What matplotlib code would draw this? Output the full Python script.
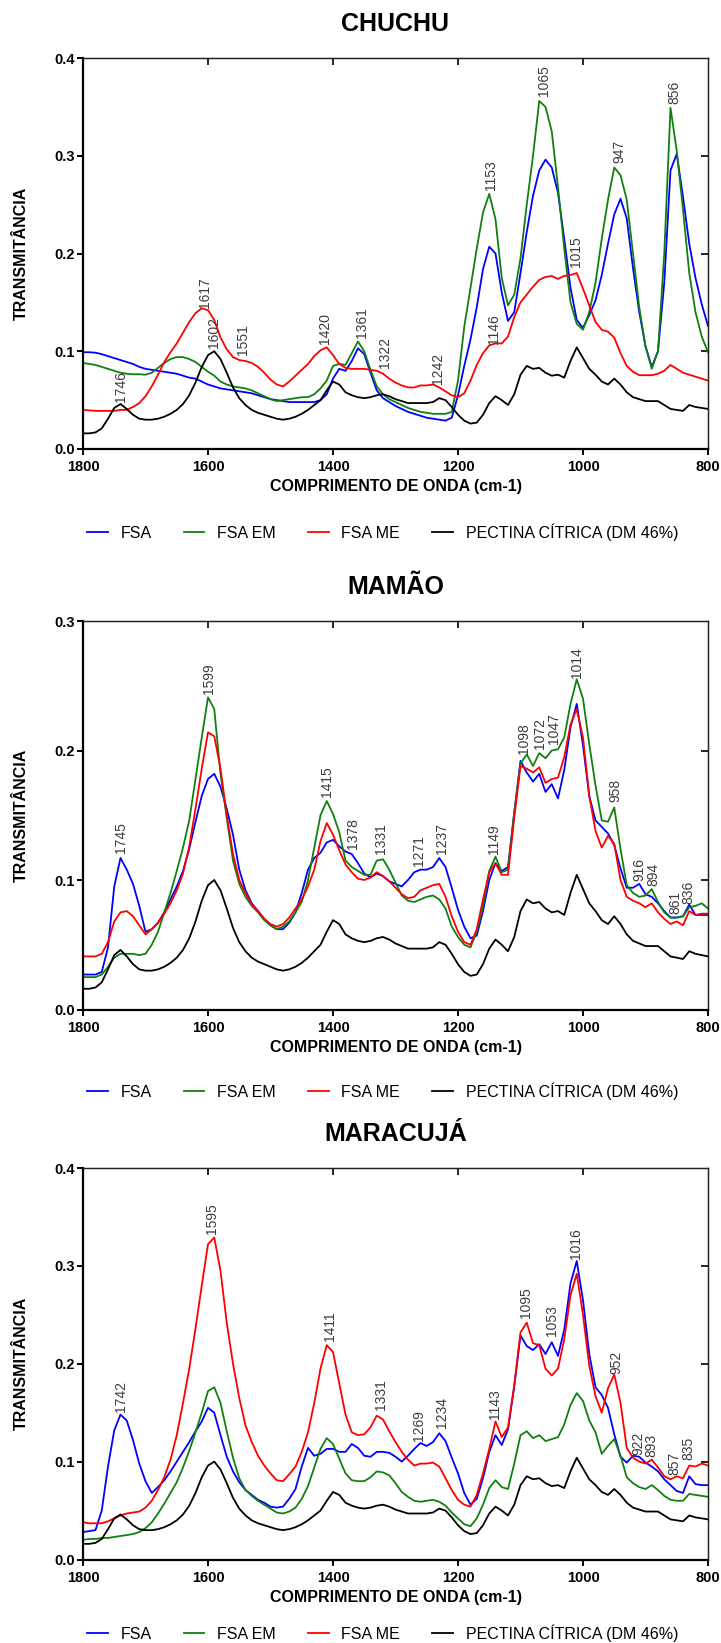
import matplotlib
matplotlib.use("Agg")
import matplotlib.pyplot as plt

plt.rcParams['font.family'] = ['Liberation Sans', 'DejaVu Sans']

# --- wavenumber grid (cm-1), 1800 -> 800 every 10 ---
wn = list(range(1800, 799, -10))

series_names = ['FSA', 'FSA EM', 'FSA ME', 'PECTINA CÍTRICA (DM 46%)']
series_colors = ['#0000ff', '#108010', '#ff0000', '#000000']

# citrus pectin reference (same curve in the three panels)
pectina = [.016, .016, .017, .021, .031, .042, .046, .041, .035, .031,
           .030, .030, .031, .033, .036, .040, .046, .055, .068, .084,
           .096, .100, .092, .078, .063, .052, .045, .040, .037, .035,
           .033, .031, .030, .031, .033, .036, .040, .045, .050, .060,
           .069, .066, .058, .055, .053, .052, .053, .055, .056, .054,
           .051, .049, .047, .047, .047, .047, .048, .052, .050, .043,
           .035, .029, .026, .027, .035, .047, .054, .050, .045, .056,
           .076, .085, .082, .083, .078, .075, .076, .073, .090, .104,
           .093, .082, .076, .069, .066, .072, .066, .058, .053, .051,
           .049, .049, .049, .045, .041, .040, .039, .045, .043, .042,
           .041]

# --- CHUCHU ---
chuchu_fsa = [.099, .099, .0985, .097, .095, .093, .091, .089, .087, .084,
              .082, .081, .080, .079, .078, .077, .075, .073, .072, .069,
              .066, .064, .062, .061, .060, .059, .058, .057, .055, .053,
              .051, .050, .049, .048, .048, .048, .048, .048, .050, .056,
              .072, .082, .080, .090, .103, .097, .078, .060, .052, .048,
              .044, .041, .038, .036, .034, .032, .031, .030, .029, .032,
              .055, .085, .112, .145, .184, .207, .200, .160, .131, .140,
              .180, .222, .259, .285, .296, .288, .262, .215, .165, .132,
              .124, .137, .152, .178, .210, .240, .256, .236, .185, .140,
              .105, .084, .100, .170, .285, .302, .258, .210, .175, .148,
              .126]
chuchu_em = [.088, .087, .086, .084, .082, .080, .078, .077, .0765, .0765,
             .076, .078, .083, .088, .092, .094, .094, .092, .089, .084,
             .079, .075, .069, .066, .064, .063, .062, .060, .057, .054,
             .051, .049, .050, .051, .052, .053, .053, .056, .062, .070,
             .085, .087, .086, .098, .110, .100, .081, .064, .056, .051,
             .048, .045, .042, .040, .038, .037, .036, .036, .036, .038,
             .070, .125, .165, .205, .242, .261, .235, .175, .147, .158,
             .195, .250, .300, .356, .350, .325, .268, .205, .150, .128,
             .122, .140, .170, .215, .255, .288, .280, .255, .200, .145,
             .105, .082, .100, .200, .349, .305, .245, .180, .140, .115,
             .099]
chuchu_me = [.040, .0395, .039, .039, .039, .039, .040, .040, .043, .047,
             .054, .064, .076, .089, .099, .108, .119, .130, .139, .144,
             .142, .132, .114, .102, .094, .091, .090, .088, .084, .078,
             .071, .066, .064, .069, .075, .081, .087, .095, .101, .104,
             .096, .087, .083, .082, .082, .082, .081, .080, .077, .072,
             .068, .065, .063, .063, .065, .065, .066, .063, .059, .055,
             .053, .057, .070, .086, .098, .106, .108, .108, .115, .135,
             .150, .158, .166, .173, .176, .177, .174, .177, .178, .180,
             .164, .147, .130, .122, .120, .114, .098, .085, .079, .0755,
             .0755, .0755, .077, .080, .086, .082, .078, .076, .074, .072,
             .070]

# --- MAMAO ---
mamao_fsa = [.027, .027, .027, .029, .048, .095, .117, .108, .097, .080,
             .060, .062, .067, .075, .085, .095, .107, .124, .145, .165,
             .178, .182, .172, .155, .135, .108, .092, .082, .076, .070,
             .065, .062, .062, .067, .075, .090, .108, .117, .121, .129,
             .131, .126, .122, .120, .113, .105, .102, .105, .103, .099,
             .097, .095, .100, .106, .108, .108, .110, .117, .110, .094,
             .077, .064, .055, .057, .076, .100, .113, .107, .110, .152,
             .192, .183, .176, .182, .168, .174, .163, .185, .218, .236,
             .204, .165, .146, .141, .136, .127, .109, .094, .094, .097,
             .089, .087, .082, .076, .071, .071, .072, .081, .073, .073,
             .073]
mamao_em = [.025, .025, .025, .027, .033, .040, .043, .043, .043, .042,
            .043, .050, .060, .075, .090, .107, .125, .146, .178, .210,
            .241, .232, .182, .148, .115, .097, .087, .080, .075, .069,
            .065, .062, .064, .068, .075, .083, .100, .125, .150, .161,
            .151, .137, .115, .110, .107, .104, .104, .115, .116, .108,
            .098, .088, .084, .083, .085, .087, .088, .085, .078, .064,
            .056, .050, .048, .060, .080, .107, .118, .106, .108, .152,
            .190, .197, .188, .198, .194, .200, .201, .210, .236, .255,
            .240, .205, .173, .146, .145, .156, .124, .096, .090, .087,
            .088, .093, .083, .075, .071, .071, .072, .079, .080, .082,
            .078]
mamao_me = [.041, .041, .041, .043, .052, .068, .075, .076, .072, .065,
            .058, .062, .067, .074, .082, .092, .105, .126, .155, .186,
            .214, .211, .186, .150, .120, .100, .090, .081, .076, .070,
            .066, .064, .066, .071, .078, .085, .095, .108, .130, .144,
            .135, .123, .112, .106, .101, .100, .102, .106, .103, .099,
            .094, .089, .086, .087, .092, .094, .096, .097, .087, .072,
            .060, .052, .050, .062, .085, .106, .113, .104, .104, .148,
            .188, .186, .183, .187, .175, .178, .179, .195, .220, .232,
            .210, .165, .138, .125, .134, .128, .100, .087, .084, .082,
            .079, .082, .075, .070, .066, .068, .065, .076, .073, .074,
            .074]

# --- MARACUJA ---
maracuja_fsa = [.028, .029, .030, .050, .095, .132, .148, .142, .122, .098,
                .080, .068, .074, .081, .090, .100, .110, .120, .131, .141,
                .155, .150, .127, .105, .090, .079, .071, .066, .061, .058,
                .054, .053, .054, .062, .072, .095, .114, .106, .108, .113,
                .113, .110, .110, .118, .114, .106, .105, .110, .110, .109,
                .105, .100, .106, .113, .119, .116, .120, .129, .121, .104,
                .088, .068, .056, .062, .083, .110, .127, .117, .133, .177,
                .229, .218, .214, .220, .210, .222, .208, .235, .282, .305,
                .265, .210, .176, .168, .155, .128, .105, .099, .106, .105,
                .099, .095, .090, .082, .076, .070, .068, .085, .077, .076,
                .076]
maracuja_em = [.020, .021, .021, .022, .022, .023, .024, .025, .026, .028,
               .032, .038, .047, .057, .068, .079, .094, .111, .130, .150,
               .172, .176, .160, .131, .104, .083, .071, .065, .060, .056,
               .052, .048, .047, .049, .053, .062, .075, .094, .113, .124,
               .118, .103, .088, .081, .080, .080, .084, .090, .089, .086,
               .078, .069, .064, .060, .059, .060, .061, .059, .055, .048,
               .042, .036, .034, .042, .056, .073, .081, .074, .072, .098,
               .127, .131, .124, .127, .121, .123, .125, .138, .158, .170,
               .162, .142, .130, .108, .116, .123, .106, .084, .078, .074,
               .072, .076, .071, .065, .061, .060, .060, .067, .066, .065,
               .064]
maracuja_me = [.038, .037, .037, .037, .039, .042, .045, .047, .048, .049,
               .053, .060, .071, .084, .102, .127, .160, .195, .236, .280,
               .322, .329, .295, .242, .200, .165, .137, .120, .106, .096,
               .088, .081, .080, .087, .095, .110, .130, .160, .195, .219,
               .212, .180, .148, .130, .127, .128, .135, .147, .143, .131,
               .120, .110, .102, .096, .098, .098, .099, .095, .083, .071,
               .061, .056, .054, .066, .088, .113, .141, .125, .135, .178,
               .232, .242, .221, .219, .195, .188, .195, .225, .270, .292,
               .250, .198, .167, .150, .175, .189, .160, .114, .104, .100,
               .098, .102, .094, .085, .082, .085, .083, .096, .095, .098,
               .096]

# --- peak labels: text, wavenumber, height of label foot ---
chuchu_lab = ['1746', '1617', '1602', '1551', '1420', '1361', '1322', '1242',
              '1146', '1153', '1065', '1015', '947', '856']
chuchu_lab_x = [1740, 1605, 1590, 1544, 1412, 1354, 1317, 1232,
                1142, 1147, 1062, 1011, 942, 854]
chuchu_lab_y = [.048, .144, .103, .096, .107, .114, .083, .067,
                .107, .265, .361, .186, .293, .353]

mamao_lab = ['1745', '1599', '1415', '1378', '1331', '1271', '1237', '1149',
             '1098', '1072', '1047', '1014', '958', '916', '894', '861', '836']
mamao_lab_x = [1740, 1598, 1409, 1368, 1323, 1262, 1225, 1142,
               1094, 1069, 1046, 1010, 949, 910, 888, 853, 832]
mamao_lab_y = [.121, .244, .164, .124, .120, .111, .120, .120,
               .197, .201, .205, .256, .160, .099, .095, .074, .0815]

maracuja_lab = ['1742', '1595', '1411', '1331', '1269', '1234', '1143', '1095',
                '1053', '1016', '952', '922', '893', '857', '835']
maracuja_lab_x = [1740, 1593, 1405, 1323, 1262, 1225, 1141, 1091,
                  1050, 1011, 947, 912, 890, 854, 832]
maracuja_lab_y = [.151, .333, .223, .153, .121, .134, .144, .247,
                  .228, .307, .190, .107, .105, .086, .102]

panels = [
    ('CHUCHU', [chuchu_fsa, chuchu_em, chuchu_me, pectina], 0.4,
     chuchu_lab, chuchu_lab_x, chuchu_lab_y),
    ('MAMÃO', [mamao_fsa, mamao_em, mamao_me, pectina], 0.3,
     mamao_lab, mamao_lab_x, mamao_lab_y),
    ('MARACUJÁ', [maracuja_fsa, maracuja_em, maracuja_me, pectina], 0.4,
     maracuja_lab, maracuja_lab_x, maracuja_lab_y),
]

W, H = 721, 1643
fig = plt.figure(figsize=(W / 100, H / 100), dpi=100)

# axes frames in pixels: (top, bottom, legend y)
frames = [(58, 449, 532), (621, 1009.5, 1091), (1168, 1559.5, 1633)]
x0, x1 = 83, 708

for (title, data, ymax, labs, lab_x, lab_y), (top, bot, leg_y) in zip(panels, frames):
    ax = fig.add_axes([x0 / W, 1 - bot / H, (x1 - x0) / W, (bot - top) / H])
    for vals, name, col in zip(data, series_names, series_colors):
        ax.plot(wn, vals, color=col, lw=1.3, label=name)

    ax.set_xlim(1800, 800)
    ax.set_ylim(0, ymax)
    ax.set_xticks([1800, 1600, 1400, 1200, 1000, 800])
    yt = [i / 10 for i in range(int(round(ymax * 10)) + 1)]
    ax.set_yticks(yt)
    ax.set_yticklabels([f'{v:.1f}' for v in yt])
    for lab in ax.get_xticklabels() + ax.get_yticklabels():
        lab.set_fontweight('bold')
    ax.tick_params(axis='both', direction='out', length=4, width=1.4,
                   labelsize=10.5, pad=2)
    ax.tick_params(axis='x', pad=4)
    for side in ['left', 'bottom']:
        ax.spines[side].set_linewidth(1.6)
    for side in ['top', 'right']:
        ax.spines[side].set_linewidth(1.0)
        ax.spines[side].set_color('#222222')

    sx = ax.secondary_xaxis('top')
    sx.set_xticks([1600, 1400, 1200, 1000])
    sx.tick_params(direction='in', length=5, width=1.2, labeltop=False)
    sy = ax.secondary_yaxis('right')
    sy.set_yticks(yt[1:-1])
    sy.tick_params(direction='in', length=5, width=1.2, labelright=False)

    for t, xx, yy in zip(labs, lab_x, lab_y):
        ax.text(xx, yy, t, rotation=90, ha='center', va='bottom',
                fontsize=10, color='#3c3c3c')

    fig.text((x0 + x1) / 2 / W, 1 - (top - 34) / H, title, ha='center',
             va='center', fontsize=18, fontweight='bold')
    fig.text((x0 + x1) / 2 / W, 1 - (bot + 38) / H,
             'COMPRIMENTO DE ONDA (cm-1)', ha='center', va='center',
             fontsize=11.5, fontweight='bold')
    fig.text(21 / W, 1 - (top + bot) / 2 / H, 'TRANSMITÂNCIA', rotation=90,
             ha='center', va='center', fontsize=11.5, fontweight='bold')

    ax.legend(loc='center left', bbox_to_anchor=(87 / W, 1 - leg_y / H),
              bbox_transform=fig.transFigure, ncol=4, frameon=False,
              fontsize=11.5, handlelength=1.3, handletextpad=0.8,
              columnspacing=2.0, borderpad=0, borderaxespad=0)

fig.savefig('out.png', dpi=100)
